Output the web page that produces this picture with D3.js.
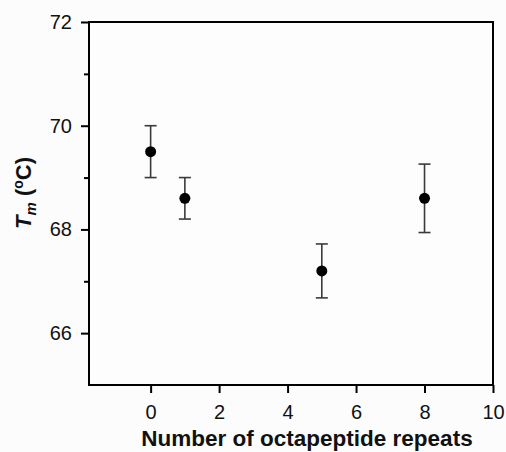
<!DOCTYPE html>
<html lang="en">
  <head>
    <meta charset="UTF-8" />
    <title>Tm vs octapeptide repeats</title>
    <style>
      body { margin: 0; background: #fcfcfc; }
      svg { display: block; font-family: Arial, "Liberation Sans", sans-serif; }
    </style>
  </head>
  <body>
    <svg id="svg" width="506" height="452"></svg>

    <script src="https://cdn.jsdelivr.net/npm/d3@7"></script>
    <script>
      // data
      const repeats = [0, 1, 5, 8];
      const tm = [69.5, 68.6, 67.2, 68.6];
      const tmErr = [0.5, 0.4, 0.52, 0.66];
      const xTicks = [0, 2, 4, 6, 8, 10];
      const yTicks = [66, 68, 70, 72];
      const yMinor = [67, 69, 71];

      const data = repeats.map((r, i) => ({ x: r, y: tm[i], e: tmErr[i] }));

      const plotL = 89, plotR = 493, plotT = 22, plotB = 385;
      const svg = d3.select("#svg");

      const x = d3.scaleLinear().domain([-1.8, 10]).range([plotL, plotR]);
      const y = d3.scaleLinear().domain([65, 72]).range([plotB, plotT]);

      // frame
      svg.append("rect")
        .attr("x", plotL).attr("y", plotT)
        .attr("width", plotR - plotL).attr("height", plotB - plotT)
        .attr("fill", "#fdfdfd")
        .attr("stroke", "#000")
        .attr("stroke-width", 2);

      // y axis
      const yAxis = svg.append("g")
        .attr("transform", `translate(${plotL},0)`)
        .call(d3.axisLeft(y).tickValues(yTicks).tickSize(8).tickPadding(9).tickFormat(d3.format("d")));
      yAxis.append("g")
        .call(d3.axisLeft(y).tickValues(yMinor).tickSize(5).tickFormat(""));
      // x axis
      svg.append("g")
        .attr("transform", `translate(0,${plotB})`)
        .call(d3.axisBottom(x).tickValues(xTicks).tickSize(8).tickPadding(12).tickFormat(d3.format("d")));

      svg.selectAll(".domain").remove();
      svg.selectAll(".tick line").attr("stroke", "#000").attr("stroke-width", 2);
      svg.selectAll(".tick text")
        .attr("fill", "#111")
        .style("font-size", "20px")
        .style("font-family", "Arial, 'Liberation Sans', sans-serif");

      // error bars
      const eb = svg.append("g").attr("stroke", "#3a3a3a").attr("stroke-width", 1.6);
      eb.selectAll("line.v").data(data).join("line").attr("class", "v")
        .attr("x1", (d) => x(d.x)).attr("x2", (d) => x(d.x))
        .attr("y1", (d) => y(d.y - d.e)).attr("y2", (d) => y(d.y + d.e));
      eb.selectAll("line.capTop").data(data).join("line").attr("class", "capTop")
        .attr("x1", (d) => x(d.x) - 6).attr("x2", (d) => x(d.x) + 6)
        .attr("y1", (d) => y(d.y + d.e)).attr("y2", (d) => y(d.y + d.e));
      eb.selectAll("line.capBot").data(data).join("line").attr("class", "capBot")
        .attr("x1", (d) => x(d.x) - 6).attr("x2", (d) => x(d.x) + 6)
        .attr("y1", (d) => y(d.y - d.e)).attr("y2", (d) => y(d.y - d.e));

      // points
      svg.append("g").selectAll("circle").data(data).join("circle")
        .attr("cx", (d) => x(d.x)).attr("cy", (d) => y(d.y))
        .attr("r", 5.5).attr("fill", "#000");

      // axis titles
      svg.append("text")
        .attr("x", 307).attr("y", 446)
        .attr("text-anchor", "middle")
        .style("font-size", "22.5px").style("font-weight", "bold")
        .attr("fill", "#111")
        .text("Number of octapeptide repeats");

      const yt = svg.append("text")
        .attr("transform", "translate(31,193) rotate(-90)")
        .attr("text-anchor", "middle")
        .style("font-size", "22px").style("font-weight", "bold")
        .attr("fill", "#111");
      yt.append("tspan").style("font-style", "italic").text("T");
      yt.append("tspan").style("font-style", "italic").style("font-size", "15px").attr("dy", 5).text("m");
      yt.append("tspan").attr("dy", -5).text(" (");
      yt.append("tspan").style("font-size", "14px").attr("dy", -8).text("o");
      yt.append("tspan").attr("dy", 8).text("C)");
    </script>
  </body>
</html>
